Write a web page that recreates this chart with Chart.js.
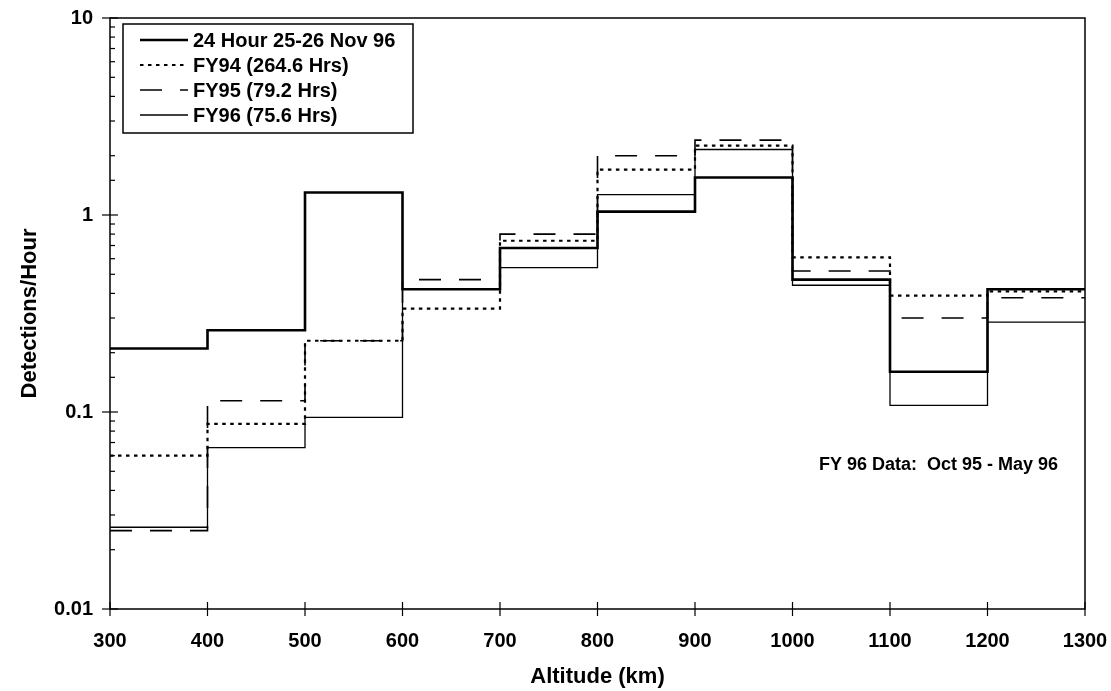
<!DOCTYPE html>
<html>
<head>
<meta charset="utf-8">
<script src="https://cdn.jsdelivr.net/npm/chart.js@4.4.0/dist/chart.umd.min.js"></script>
<style>
    html, body { margin: 0; padding: 0; background: #fff; }
</style>
</head>
<body>
<canvas id="detChart" width="1111" height="691"></canvas>
<script>
// bin edges (km) and detections/hour for each 100 km bin
const altitudeEdges = [300, 400, 500, 600, 700, 800, 900, 1000, 1100, 1200, 1300];
const nov96Rates = [0.21, 0.26, 1.3, 0.42, 0.68, 1.04, 1.55, 0.47, 0.16, 0.42];
const fy94Rates = [0.06, 0.087, 0.23, 0.335, 0.74, 1.7, 2.25, 0.61, 0.39, 0.41];
const fy95Rates = [0.025, 0.114, 0.23, 0.47, 0.80, 2.0, 2.4, 0.52, 0.30, 0.38];
const fy96Rates = [0.026, 0.066, 0.094, 0.42, 0.54, 1.27, 2.15, 0.44, 0.108, 0.286];
const seriesNames = ['24 Hour 25-26 Nov 96', 'FY94 (264.6 Hrs)', 'FY95 (79.2 Hrs)', 'FY96 (75.6 Hrs)'];
const yTickLabels = ['0.01', '0.1', '1', '10'];
const noteText = 'FY 96 Data:  Oct 95 - May 96';

const FONT = "'Liberation Sans', Arial, sans-serif";

// step points: one per edge, the last bin value is held to the right edge
function stepData(rates) {
    return altitudeEdges.map((x, i) => ({ x: x, y: rates[Math.min(i, rates.length - 1)] }));
}

function lineSet(label, rates, width, dash) {
    return {
        label: label,
        data: stepData(rates),
        stepped: true,
        borderColor: '#000',
        borderWidth: width,
        borderDash: dash,
        borderCapStyle: 'butt',
        pointRadius: 0,
        fill: false
    };
}

// frame, crossing tick marks, boxed legend and the note
const decorPlugin = {
    id: 'decor',
    afterDraw: function(chart) {
        const ctx = chart.ctx;
        const area = chart.chartArea;
        const xs = chart.scales.x;
        const ys = chart.scales.y;
        ctx.save();
        ctx.strokeStyle = '#000';
        ctx.lineWidth = 1.5;
        ctx.setLineDash([]);
        ctx.strokeRect(area.left, area.top, area.right - area.left, area.bottom - area.top);

        ctx.lineWidth = 1.2;
        ys.ticks.forEach(function(t) {
            const py = ys.getPixelForValue(t.value);
            const lg = Math.log10(t.value);
            const major = Math.abs(lg - Math.round(lg)) < 1e-6;
            ctx.beginPath();
            ctx.moveTo(area.left - (major ? 8 : 0), py);
            ctx.lineTo(area.left + (major ? 8 : 5), py);
            ctx.stroke();
        });
        xs.ticks.forEach(function(t) {
            const px = xs.getPixelForValue(t.value);
            ctx.beginPath();
            ctx.moveTo(px, area.bottom - 7);
            ctx.lineTo(px, area.bottom + 7);
            ctx.stroke();
        });

        // legend box
        const x0 = area.left + 13;
        const y0 = area.top + 6;
        ctx.lineWidth = 1.5;
        ctx.strokeRect(x0, y0, 290, 109);
        ctx.font = 'bold 20px ' + FONT;
        ctx.fillStyle = '#000';
        ctx.textBaseline = 'middle';
        ctx.textAlign = 'left';
        chart.data.datasets.forEach(function(ds, i) {
            const yy = y0 + 16 + i * 25;
            ctx.beginPath();
            ctx.setLineDash(ds.borderDash || []);
            ctx.lineWidth = ds.borderWidth;
            ctx.moveTo(x0 + 17, yy);
            ctx.lineTo(x0 + 65, yy);
            ctx.stroke();
            ctx.setLineDash([]);
            ctx.fillText(ds.label, x0 + 70, yy + 1);
        });

        ctx.font = 'bold 18px ' + FONT;
        ctx.textAlign = 'right';
        ctx.fillText(noteText, area.right - 27, 465);
        ctx.restore();
    }
};

const ctx = document.getElementById('detChart').getContext('2d');
new Chart(ctx, {
    type: 'line',
    data: {
        datasets: [
            lineSet(seriesNames[0], nov96Rates, 2.6, []),
            lineSet(seriesNames[1], fy94Rates, 2.2, [3.5, 4.5]),
            lineSet(seriesNames[2], fy95Rates, 1.6, [22, 18]),
            lineSet(seriesNames[3], fy96Rates, 1.3, [])
        ]
    },
    options: {
        responsive: false,
        animation: false,
        layout: { padding: { top: 18, right: 26, left: 0, bottom: 0 } },
        plugins: {
            legend: { display: false },
            tooltip: { enabled: false }
        },
        scales: {
            x: {
                type: 'linear',
                min: 300,
                max: 1300,
                grid: { display: false },
                border: { display: false },
                ticks: {
                    stepSize: 100,
                    padding: 12,
                    maxRotation: 0,
                    color: '#000',
                    font: { family: FONT, size: 20, weight: 'bold' },
                    callback: function(v) { return String(v); }
                },
                title: {
                    display: true,
                    text: 'Altitude (km)',
                    color: '#000',
                    font: { family: FONT, size: 22, weight: 'bold' },
                    padding: { top: 0, bottom: 1 }
                },
                afterFit: function(s) {
                    s.height = 82;
                    s.paddingLeft = 0;
                    s.paddingRight = 0;
                }
            },
            y: {
                type: 'logarithmic',
                min: 0.01,
                max: 10,
                grid: { display: false },
                border: { display: false },
                ticks: {
                    autoSkip: false,
                    padding: 9,
                    color: '#000',
                    font: { family: FONT, size: 20, weight: 'bold' },
                    callback: function(v) {
                        const lg = Math.log10(v);
                        const e = Math.round(lg);
                        return Math.abs(lg - e) < 1e-6 ? yTickLabels[e + 2] : '';
                    }
                },
                title: {
                    display: true,
                    text: 'Detections/Hour',
                    color: '#000',
                    font: { family: FONT, size: 22, weight: 'bold' },
                    padding: { top: 17, bottom: 0 }
                },
                afterFit: function(s) {
                    s.width = 110;
                    s.paddingTop = 0;
                    s.paddingBottom = 0;
                }
            }
        }
    },
    plugins: [decorPlugin]
});
</script>
</body>
</html>
